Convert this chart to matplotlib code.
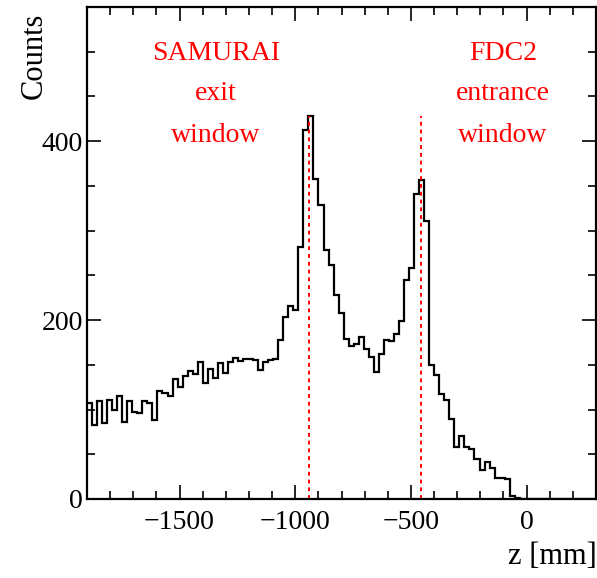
import numpy as np
import matplotlib
matplotlib.use("Agg")
import matplotlib.pyplot as plt
from matplotlib.ticker import MultipleLocator

# histogram of reconstructed z position, 21.75 mm bins starting at -1900 mm
z_start = -1900.0
bin_width = 21.75
counts = [107, 83, 110, 85, 111, 100, 115, 86, 109, 97,
          96, 110, 107, 88, 121, 119, 115, 134, 125, 138,
          143, 140, 153, 130, 145, 135, 152, 141, 153, 158,
          154, 156, 156, 155, 144, 153, 155, 157, 178, 203,
          216, 211, 282, 412, 428, 358, 329, 278, 262, 228,
          208, 179, 171, 173, 181, 168, 159, 142, 162, 178,
          177, 184, 199, 245, 258, 341, 357, 311, 150, 139,
          117, 111, 89, 58, 70, 58, 56, 45, 32, 41,
          35, 24, 24, 22, 3, 1, 0, 0, 0, 0,
          0, 0, 0, 0, 0, 0, 0, 0, 0, 0, 0, 0]

# window positions (mm)
window_z = [-940, -455]
label_left = ["SAMURAI", "exit", "window"]
label_right = ["FDC2", "entrance", "window"]

plt.rcParams["font.family"] = ["Liberation Serif", "DejaVu Serif"]

edges = z_start + bin_width * np.arange(len(counts) + 1)

fig = plt.figure(figsize=(5.97, 5.78), dpi=100)
ax = fig.add_axes([87 / 597, 1 - 499 / 578, 509 / 597, 492 / 578])

ax.stairs(counts, edges, color="black", lw=1.6, baseline=None)

for z in window_z:
    ax.vlines(z, 0, max(counts), colors="red", linestyles=(0, (2, 2)), lw=1.4)

ax.set_xlim(-1900, 300)
ax.set_ylim(0, 550)

ax.xaxis.set_major_locator(MultipleLocator(500))
ax.xaxis.set_minor_locator(MultipleLocator(100))
ax.yaxis.set_major_locator(MultipleLocator(200))
ax.yaxis.set_minor_locator(MultipleLocator(50))
ax.tick_params(which="both", direction="in", top=True, right=True,
               labelsize=20, width=1.2)
ax.tick_params(which="major", length=10)
ax.tick_params(which="minor", length=5.5)
ax.tick_params(axis="x", pad=8)
ax.tick_params(axis="y", pad=3)
for s in ax.spines.values():
    s.set_linewidth(1.6)

ax.set_xticks([-1500, -1000, -500, 0])
ax.set_xticklabels(["\u22121500", "\u22121000", "\u2212500", "0"])

fig.text(597 / 597, 1 - 556 / 578, "z [mm]", ha="right", va="center", fontsize=22)
fig.text(34 / 597, 1 - 13 / 578, "Counts", ha="center", va="top",
         rotation=90, fontsize=22)

for i, t in enumerate(label_left):
    fig.text(216 / 597, 1 - (53 + 41 * i) / 578, t, color="red",
             ha="center", va="center", fontsize=20)
for i, t in enumerate(label_right):
    fig.text(503 / 597, 1 - (53 + 41 * i) / 578, t, color="red",
             ha="center", va="center", fontsize=20)

fig.savefig("out.png", dpi=100)
